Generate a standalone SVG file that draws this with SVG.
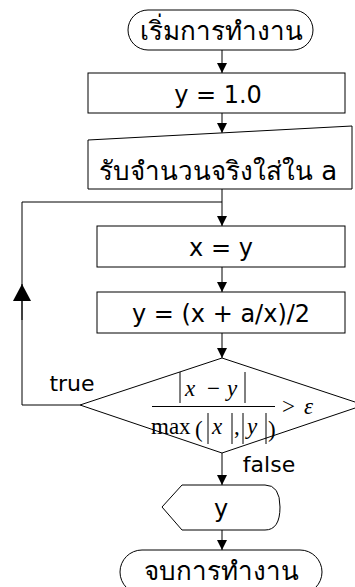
<svg xmlns="http://www.w3.org/2000/svg" width="355" height="587" viewBox="0 0 355 587">
<style>
.s{fill:#fff;stroke:#000;stroke-width:1}
.l{fill:none;stroke:#000;stroke-width:1}
.t{font-family:Tahoma,"DejaVu Sans","Noto Sans",sans-serif;font-size:24px;fill:#000;text-anchor:middle}
.th{font-size:26px}
.lb{font-size:22px}
.m{font-family:"Liberation Serif","Times New Roman",serif;font-size:23px;fill:#000}
.mi{font-style:italic}
</style>
<defs>
<marker id="ah" markerWidth="10" markerHeight="10" refX="10" refY="5" orient="auto" markerUnits="userSpaceOnUse">
<path d="M0,0 L10,5 L0,10 Z" fill="#000"/>
</marker>
<marker id="ahb" markerWidth="18" markerHeight="18" refX="17" refY="9" orient="auto" markerUnits="userSpaceOnUse">
<path d="M0,0 L17,9 L0,18 Z" fill="#000"/>
</marker>
</defs>
<g id="connectors">
<line class="l" x1="222" y1="50" x2="222" y2="73" marker-end="url(#ah)"/>
<line class="l" x1="222" y1="113" x2="222" y2="133" marker-end="url(#ah)"/>
<line class="l" x1="222" y1="189" x2="222" y2="226" marker-end="url(#ah)"/>
<line class="l" x1="222" y1="267" x2="222" y2="292" marker-end="url(#ah)"/>
<line class="l" x1="222" y1="333" x2="222" y2="358" marker-end="url(#ah)"/>
<line class="l" x1="222" y1="453" x2="222" y2="485" marker-end="url(#ah)"/>
<line class="l" x1="222" y1="530" x2="222" y2="550" marker-end="url(#ah)"/>
<polyline class="l" points="80,405 22,405 22,202 222,202"/>
<line class="l" x1="22" y1="320" x2="22" y2="284" marker-end="url(#ahb)"/>
<text class="t lb" x="72" y="391">true</text>
<text class="t lb" x="269" y="472">false</text>
</g>
<g id="start">
<rect class="s" x="128" y="10" width="185" height="40" rx="20" ry="20"/>
<text class="t th" x="221" y="40">เริ่มการทำงาน</text>
</g>
<g id="init">
<rect class="s" x="88" y="73" width="257" height="40"/>
<text class="t" x="218" y="103">y = 1.0</text>
</g>
<g id="input">
<polygon class="s" points="88,140 352,126 352,189 88,189"/>
<text class="t th" x="218" y="180">รับจำนวนจริงใส่ใน a</text>
</g>
<g id="assignx">
<rect class="s" x="97" y="226" width="248" height="41"/>
<text class="t" x="221" y="256">x = y</text>
</g>
<g id="update">
<rect class="s" x="97" y="292" width="248" height="41"/>
<text class="t" x="221" y="322">y = (x + a/x)/2</text>
</g>
<g id="decision">
<polygon class="s" points="222,358 364,405 222,453 80,405"/>
<line class="l" x1="180" y1="372" x2="180" y2="403"/>
<line class="l" x1="245" y1="372" x2="245" y2="403"/>
<text class="m mi" x="185" y="396">x</text>
<text class="m" x="207" y="396">−</text>
<text class="m mi" x="227" y="396">y</text>
<line class="l" x1="152" y1="406.5" x2="275" y2="406.5"/>
<text class="m" x="151" y="434">max</text>
<text class="m" x="195" y="437" font-size="31">(</text>
<line class="l" x1="208" y1="413" x2="208" y2="444"/>
<text class="m mi" x="212" y="434">x</text>
<line class="l" x1="232" y1="413" x2="232" y2="444"/>
<text class="m" x="234" y="434">,</text>
<line class="l" x1="243" y1="413" x2="243" y2="444"/>
<text class="m mi" x="247" y="434">y</text>
<line class="l" x1="266" y1="413" x2="266" y2="444"/>
<text class="m" x="268" y="437" font-size="31">)</text>
<text class="m" x="282" y="414">&gt;</text>
<text class="m mi" x="304" y="414">ε</text>
</g>
<g id="output">
<path class="s" d="M162,507 L182,485 L265,485 Q280,485 280,507 Q280,530 265,530 L182,530 Z"/>
<text class="t" x="221" y="517">y</text>
</g>
<g id="end">
<rect class="s" x="120" y="550" width="202" height="44" rx="22" ry="22"/>
<text class="t th" x="221" y="580">จบการทำงาน</text>
</g>
</svg>
